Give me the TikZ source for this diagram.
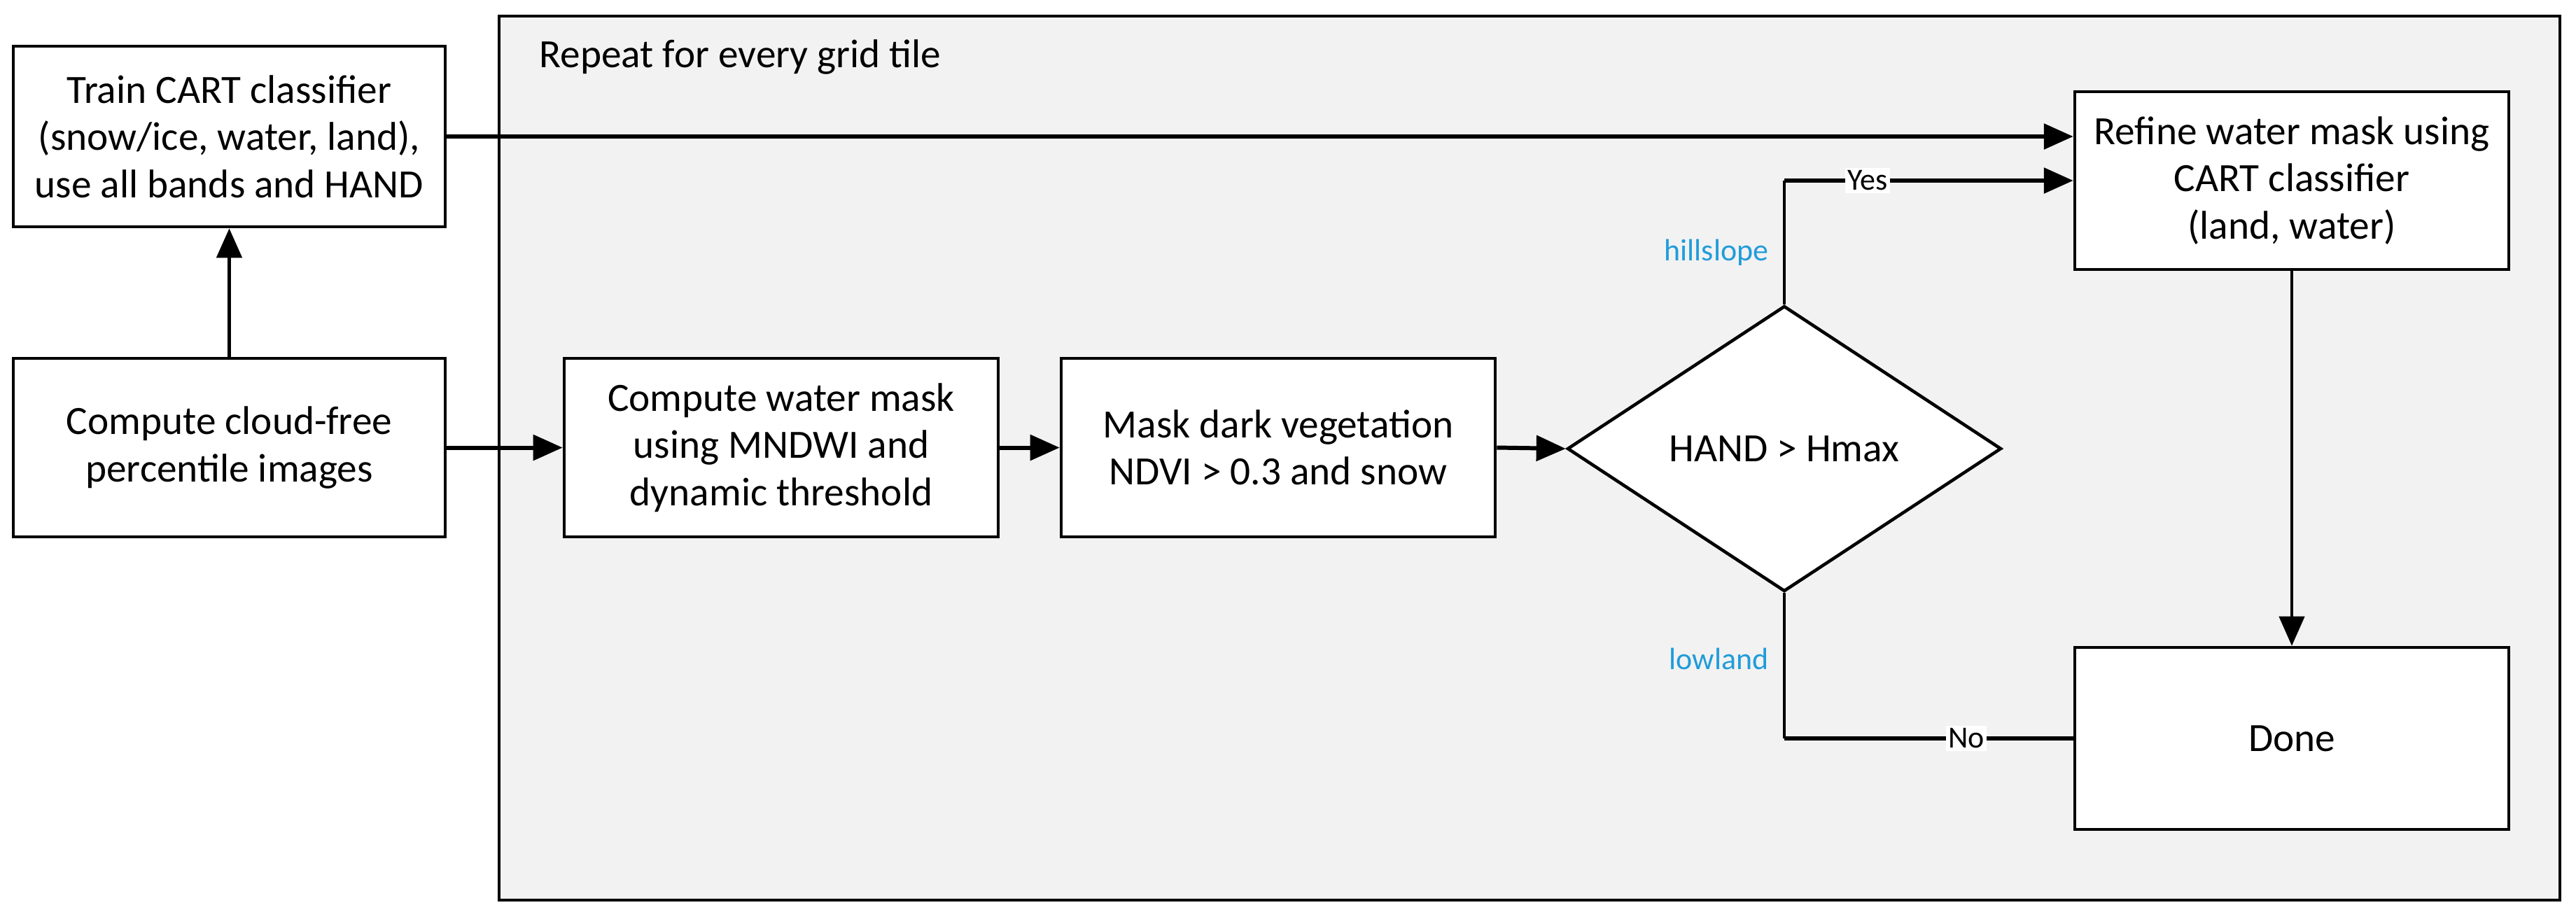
\documentclass[tikz,border=0pt]{standalone}
\usepackage{fontspec}
\setmainfont{Carlito}
\usetikzlibrary{shapes.geometric,arrows.meta}
\definecolor{framegray}{RGB}{242,242,242}
\definecolor{labelblue}{RGB}{32,156,218}
\tikzset{
  procbox/.style={draw=black, line width=1.3pt, fill=white, minimum width=6.2cm, minimum height=2.55cm, align=center, inner sep=0pt, font=\fontsize{16.3}{19.2}\selectfont},
  decbox/.style={draw=black, line width=1.3pt, fill=white, shape=diamond, minimum width=6.2cm, minimum height=4.08cm, inner sep=0pt, align=center, font=\fontsize{16.3}{19.2}\selectfont},
  conn/.style={line width=1.7pt, draw=black},
  thinconn/.style={line width=1.2pt, draw=black},
  arr/.style={-{Triangle[length=0.42cm,width=0.36cm]}},
  edgelabel/.style={fill=white, inner sep=1pt, font=\fontsize{12.5}{15}\selectfont},
  sidelabel/.style={text=labelblue, inner sep=0pt, font=\fontsize{12.5}{15}\selectfont}
}
\begin{document}
\begin{tikzpicture}
\useasboundingbox (0,0) rectangle (36.8,-13.12);
\node[draw=black, line width=1.3pt, fill=framegray, minimum width=29.44cm, minimum height=12.63cm, inner sep=0pt] (frame) at (21.85,-6.545) {};
\node[anchor=west, inner sep=0pt, font=\fontsize{16.3}{19.2}\selectfont] (repeat) at (7.7,-0.82) {Repeat for every grid tile};
\node[procbox, minimum width=6.17cm, minimum height=2.58cm] (train) at (3.275,-1.95) {Train CART classifier\\(snow/ice, water, land),\\use all bands and HAND};
\node[procbox, minimum width=6.17cm] (cloud) at (3.275,-6.395) {Compute cloud-free\\percentile images};
\node[procbox] (water) at (11.16,-6.395) {Compute water mask\\using MNDWI and\\dynamic threshold};
\node[procbox] (veg) at (18.26,-6.395) {Mask dark vegetation\\NDVI {>} 0.3 and snow};
\node[decbox] (dia) at (25.49,-6.41) {HAND {>} Hmax};
\node[procbox, minimum height=2.54cm] (refine) at (32.74,-2.58) {Refine water mask using\\CART classifier\\(land, water)};
\node[procbox, minimum height=2.6cm] (done) at (32.74,-10.55) {Done};
% connectors
\coordinate (yescorner) at (dia.north |- refine.west);
\coordinate (nocorner) at (dia.south |- done.west);
\draw[conn, line width=1.4pt, arr] (cloud.north) -- (train.south);
\draw[conn, arr] (train.east) -- (train.east -| refine.west);
\draw[conn, arr] (cloud.east) -- (water.west);
\draw[conn, arr] (water.east) -- (veg.west);
\draw[conn, arr] (veg.east) -- (dia.west);
\draw[thinconn] (dia.north) -- (yescorner);
\draw[conn, arr] (yescorner) -- (refine.west);
\draw[thinconn] (dia.south) -- (nocorner);
\draw[conn] (nocorner) -- (done.west);
\draw[thinconn, arr] (refine.south) -- (done.north);
% labels
\node[edgelabel] (yes) at (26.68,-2.58) {Yes};
\node[edgelabel] (no) at (28.09,-10.55) {No};
\node[sidelabel, anchor=east] (hill) at (25.27,-3.61) {hillslope};
\node[sidelabel, anchor=east] (low) at (25.27,-9.41) {lowland};
\end{tikzpicture}
\end{document}
